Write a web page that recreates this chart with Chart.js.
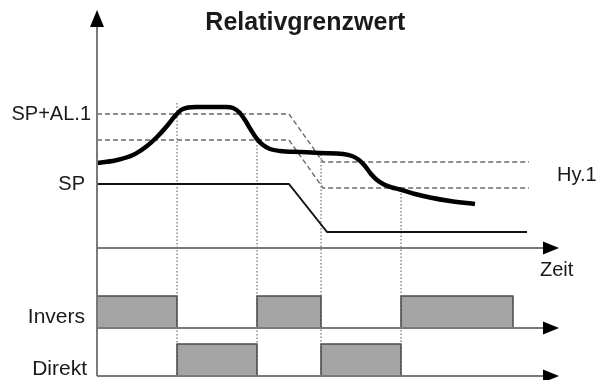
<!DOCTYPE html>
<html>
<head>
<meta charset="utf-8">
<script src="https://cdn.jsdelivr.net/npm/chart.js@4/dist/chart.umd.min.js"></script>
<style>
  html, body { margin: 0; padding: 0; background: #fff; }
  canvas { display: block; }
</style>
</head>
<body>
<canvas id="chart" width="596" height="380"></canvas>
<script>
"use strict";

// process value (thick curve)
const pvTime  = [0, 4.5, 9, 12.5, 15, 17.5, 19.5, 21, 22.75, 24.75, 32.25, 34, 35.5, 37, 38.5, 40, 41.5, 43.25, 45.75, 50.75, 55.75, 61.5, 63.75, 65.5, 67, 68.5, 70, 71.75, 73.75, 75.75, 79.5, 83.25, 88.25, 94.5];
const pvValue = [10.5, 11.75, 14.5, 19, 23.5, 29, 34, 37, 38.25, 38.5, 38.5, 38, 36, 32, 27, 22.5, 19.5, 17.5, 16.5, 16, 15.5, 15, 14, 12, 9, 5, 2, -0.25, -1.75, -2.75, -5, -6.75, -8.5, -10];

// setpoint SP
const spTime  = [0, 48, 57.5, 107.5];
const spValue = [0, 0, -24, -24];

// alarm limit SP+AL.1 and limit minus hysteresis
const alTime  = [0, 48, 56.5, 108];
const alValue = [35, 35, 11, 11];
const hyTime  = [0, 48, 56.5, 108];
const hyValue = [22, 22, -2, -2];

// switching instants
const switchTime = [20, 40, 56, 76];
const switchTop  = [40.5, 23, 16.5, -3];

// relay outputs
const inversOn  = [0, 40, 76];
const inversOff = [20, 56, 104];
const direktOn  = [20, 56];
const direktOff = [40, 76];

// labels
const titleText   = "Relativgrenzwert";
const levelLabels = ["SP+AL.1", "SP"];
const levelValues = [35, 0];
const relayLabels = ["Invers", "Direkt"];

// layout of the drawing (value units)
const timeAxisLevel = -32;
const inversBase = -72;
const direktBase = -96;
const relayHeight = 16;

const pts = (xs, ys) => xs.map((v, i) => ({ x: v, y: ys[i] }));

const datasets = [];

datasets.push({
    data: pts(pvTime, pvValue),
    borderColor: "#000",
    borderWidth: 4.5,
    cubicInterpolationMode: "monotone",
    borderCapStyle: "butt",
    order: 0
});

datasets.push({
    data: pts(spTime, spValue),
    borderColor: "#111",
    borderWidth: 2,
    order: 1
});

[[alTime, alValue], [hyTime, hyValue]].forEach(function(p) {
    datasets.push({
        data: pts(p[0], p[1]),
        borderColor: "#6a6a6a",
        borderWidth: 1.4,
        borderDash: [5, 3],
        order: 2
    });
});

switchTime.forEach(function(t, i) {
    datasets.push({
        data: [{ x: t, y: switchTop[i] }, { x: t, y: direktBase }],
        borderColor: "#555",
        borderWidth: 1,
        borderDash: [1.5, 2],
        order: 3
    });
});

function relayBars(on, off, base) {
    on.forEach(function(t0, i) {
        const t1 = off[i];
        datasets.push({
            data: [
                { x: t0, y: base }, { x: t0, y: base + relayHeight },
                { x: t1, y: base + relayHeight }, { x: t1, y: base }
            ],
            borderColor: "#4a4a4a",
            borderWidth: 1.5,
            backgroundColor: "#a4a4a4",
            fill: { value: base },
            order: 4
        });
    });
}
relayBars(inversOn, inversOff, inversBase);
relayBars(direktOn, direktOff, direktBase);

const diagramDecor = {
    id: "diagramDecor",
    afterDatasetsDraw(chart) {
        const ctx = chart.ctx;
        const x = chart.scales.x;
        const y = chart.scales.y;
        const px = (v) => x.getPixelForValue(v);
        const py = (v) => y.getPixelForValue(v);

        ctx.save();
        // axes
        ctx.strokeStyle = "#7a7a7a";
        ctx.lineWidth = 2;
        ctx.beginPath();
        ctx.moveTo(px(0), py(direktBase));
        ctx.lineTo(px(0), py(80));
        [timeAxisLevel, inversBase, direktBase].forEach(function(v) {
            ctx.moveTo(px(0), py(v));
            ctx.lineTo(px(112), py(v));
        });
        ctx.stroke();

        // arrow heads
        ctx.fillStyle = "#000";
        ctx.beginPath();
        ctx.moveTo(px(0), py(87));
        ctx.lineTo(px(0) - 7, py(78.5));
        ctx.lineTo(px(0) + 7, py(78.5));
        ctx.closePath();
        ctx.fill();
        [timeAxisLevel, inversBase, direktBase].forEach(function(v) {
            ctx.beginPath();
            ctx.moveTo(px(115.5), py(v));
            ctx.lineTo(px(111.5), py(v) - 6.5);
            ctx.lineTo(px(111.5), py(v) + 6.5);
            ctx.closePath();
            ctx.fill();
        });

        // texts
        ctx.fillStyle = "#1a1a1a";
        ctx.textBaseline = "middle";
        ctx.font = "bold 25px 'Liberation Sans', Arial, sans-serif";
        ctx.textAlign = "center";
        ctx.fillText(titleText, px(52.1), py(80.5));

        ctx.font = "20px 'Liberation Sans', Arial, sans-serif";
        ctx.textAlign = "right";
        ctx.fillText(levelLabels[0], px(-1.5), py(levelValues[0]));
        ctx.fillText(levelLabels[1], px(-3), py(levelValues[1]));
        ctx.font = "21px 'Liberation Sans', Arial, sans-serif";
        ctx.fillText(relayLabels[0], px(-3), py(inversBase + 5.5));
        ctx.fillText(relayLabels[1], px(-2.5), py(direktBase + 3.5));

        ctx.font = "20px 'Liberation Sans', Arial, sans-serif";
        ctx.textAlign = "left";
        ctx.fillText("Hy.1", px(115), py((alValue[3] + hyValue[3]) / 2));
        ctx.fillText("Zeit", px(110.75), py(-43));
        ctx.restore();
    }
};

new Chart(document.getElementById("chart"), {
    type: "line",
    data: { datasets: datasets },
    options: {
        responsive: false,
        animation: false,
        layout: { padding: 0 },
        elements: {
            point: { radius: 0, hoverRadius: 0 },
            line: { tension: 0, fill: false, borderJoinStyle: "round" }
        },
        scales: {
            x: { type: "linear", display: false, min: -24.25, max: 124.75 },
            y: { type: "linear", display: false, min: -98, max: 92 }
        },
        plugins: {
            legend: { display: false },
            tooltip: { enabled: false },
            title: { display: false }
        }
    },
    plugins: [diagramDecor]
});
</script>
</body>
</html>
